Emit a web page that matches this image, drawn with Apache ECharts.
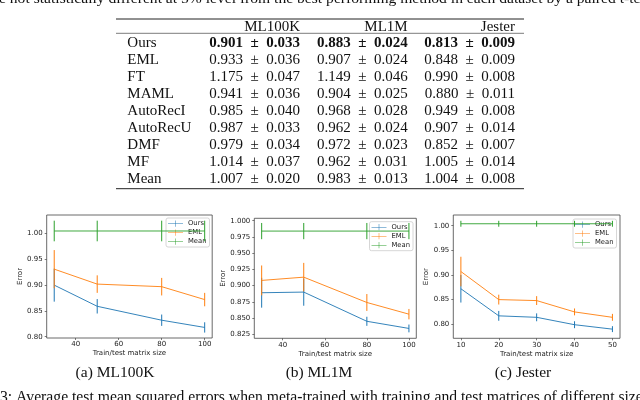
<!DOCTYPE html>
<html>
<head>
<meta charset="utf-8">
<script src="https://cdn.jsdelivr.net/npm/echarts@6/dist/echarts.min.js"></script>
<style>
html,body{margin:0;padding:0;background:#fff;}
#c{width:640px;height:400px;}
</style>
</head>
<body>
<div id="c"></div>
<script>
// ---------- table data ----------
const methods = ['Ours','EML','FT','MAML','AutoRecI','AutoRecU','DMF','MF','Mean'];
const datasets = ['ML100K','ML1M','Jester'];
const ml100kMean = [0.901,0.933,1.175,0.941,0.985,0.987,0.979,1.014,1.007];
const ml100kStd  = [0.033,0.036,0.047,0.036,0.040,0.033,0.034,0.037,0.020];
const ml1mMean   = [0.883,0.907,1.149,0.904,0.968,0.962,0.972,0.962,0.983];
const ml1mStd    = [0.024,0.024,0.046,0.025,0.028,0.024,0.023,0.031,0.013];
const jesterMean = [0.813,0.848,0.990,0.880,0.949,0.907,0.852,1.005,1.004];
const jesterStd  = [0.009,0.009,0.008,0.011,0.008,0.014,0.007,0.014,0.008];
const boldRow = 'Ours';

// ---------- chart (a) ML100K ----------
const xA = [30, 50, 80, 100];
const oursA = [0.900, 0.859, 0.832, 0.818];
const oursAErr = [0.032, 0.014, 0.011, 0.010];
const emlA = [0.931, 0.902, 0.897, 0.872];
const emlAErr = [0.037, 0.017, 0.017, 0.013];
const meanA = [1.005, 1.005, 1.005, 1.005];
const meanAErr = [0.020, 0.020, 0.020, 0.020];
const xTicksA = [40, 60, 80, 100];
const yTicksA = [0.80, 0.85, 0.90, 0.95, 1.00];

// ---------- chart (b) ML1M ----------
const xB = [30, 50, 80, 100];
const oursB = [0.889, 0.890, 0.845, 0.834];
const oursBErr = [0.023, 0.021, 0.007, 0.006];
const emlB = [0.908, 0.913, 0.874, 0.856];
const emlBErr = [0.023, 0.022, 0.013, 0.008];
const meanB = [0.984, 0.984, 0.984, 0.984];
const meanBErr = [0.0125, 0.0125, 0.0125, 0.0125];
const xTicksB = [40, 60, 80, 100];
const yTicksB = [0.825, 0.850, 0.875, 0.900, 0.925, 0.950, 0.975, 1.000];

// ---------- chart (c) Jester ----------
const xC = [10, 20, 30, 40, 50];
const oursC = [0.872, 0.817, 0.814, 0.799, 0.790];
const oursCErr = [0.028, 0.010, 0.008, 0.007, 0.006];
const emlC = [0.907, 0.850, 0.848, 0.825, 0.814];
const emlCErr = [0.030, 0.010, 0.009, 0.007, 0.007];
const meanC = [1.004, 1.004, 1.004, 1.004, 1.004];
const meanCErr = [0.006, 0.006, 0.006, 0.006, 0.006];
const xTicksC = [10, 20, 30, 40, 50];
const yTicksC = [0.80, 0.85, 0.90, 0.95, 1.00];

const seriesNames = ['Ours', 'EML', 'Mean'];
const captions = ['(a) ML100K', '(b) ML1M', '(c) Jester'];
const topText = 'e not statistically different at 5% level from the best performing method in each dataset by a paired t-test.';
const bottomText = '3: Average test mean squared errors when meta-trained with training and test matrices of different sizes.';
const xName = 'Train/test matrix size';
const yName = 'Error';

// ---------- layout / style ----------
const COLORS = ['#1f77b4', '#ff7f0e', '#2ca02c'];
const AX = '#444';
const SANS = 'DejaVu Sans';
const SERIF = 'Liberation Serif';

const charts = [
  { x: xA, ys: [oursA, emlA, meanA], es: [oursAErr, emlAErr, meanAErr], xt: xTicksA, yt: yTicksA, yDig: 2,
    grid: {left: 46.7, top: 215, width: 165.5, height: 123}, xmin: 26.5, xmax: 103.5, ymin: 0.7975, ymax: 1.036,
    nameGapY: 22, legend: {left: 166, top: 218}, cap: {x: 115, y: 373} },
  { x: xB, ys: [oursB, emlB, meanB], es: [oursBErr, emlBErr, meanBErr], xt: xTicksB, yt: yTicksB, yDig: 3,
    grid: {left: 254.3, top: 218.3, width: 162, height: 120}, xmin: 26.5, xmax: 103.5, ymin: 0.8188, ymax: 1.0037,
    nameGapY: 25.5, legend: {left: 369.5, top: 221.7}, cap: {x: 319, y: 373} },
  { x: xC, ys: [oursC, emlC, meanC], es: [oursCErr, emlCErr, meanCErr], xt: xTicksC, yt: yTicksC, yDig: 2,
    grid: {left: 453.3, top: 215, width: 166.7, height: 123.3}, xmin: 8, xmax: 52, ymin: 0.7714, ymax: 1.0218,
    nameGapY: 20.5, legend: {left: 573, top: 219}, cap: {x: 523, y: 373} }
];

function errItem(params, api) {
  const x = api.value(0), y = api.value(1), e = api.value(2);
  const p1 = api.coord([x, y + e]);
  const p2 = api.coord([x, y - e]);
  return { type: 'line', shape: {x1: p1[0], y1: p1[1], x2: p2[0], y2: p2[1]},
           style: {stroke: api.visual('color'), lineWidth: 1} };
}

const grids = [], xAxes = [], yAxes = [], series = [], legends = [];
const legendIcon = 'path://M0,4.6H24V5.4H0Z M11.6,0H12.4V10H11.6Z';

charts.forEach((c, k) => {
  grids.push(Object.assign({show: true, borderColor: AX, borderWidth: 0.8, backgroundColor: 'transparent'}, c.grid));
  xAxes.push({
    type: 'value', gridIndex: k, min: c.xmin, max: c.xmax,
    splitLine: {show: false}, axisLine: {show: false},
    axisTick: {show: true, length: 2, lineStyle: {color: AX, width: 0.7}, customValues: c.xt},
    axisLabel: {customValues: c.xt, margin: 3, fontSize: 7, fontFamily: SANS, color: '#222',
                formatter: v => String(Math.round(v))},
    name: xName, nameLocation: 'middle', nameGap: 12,
    nameTextStyle: {fontSize: 7, fontFamily: SANS, color: '#222'}
  });
  yAxes.push({
    type: 'value', gridIndex: k, min: c.ymin, max: c.ymax,
    splitLine: {show: false}, axisLine: {show: false},
    axisTick: {show: true, length: 2, lineStyle: {color: AX, width: 0.7}, customValues: c.yt},
    axisLabel: {customValues: c.yt, margin: 4, fontSize: 7, fontFamily: SANS, color: '#222',
                formatter: v => v.toFixed(c.yDig)},
    name: yName, nameLocation: 'middle', nameGap: c.nameGapY, nameRotate: 90,
    nameTextStyle: {fontSize: 7, fontFamily: SANS, color: '#222'}
  });
  seriesNames.forEach((nm, s) => {
    const ys = c.ys[s], es = c.es[s];
    series.push({
      name: nm, type: 'line', xAxisIndex: k, yAxisIndex: k,
      data: c.x.map((xv, i) => [xv, ys[i]]),
      showSymbol: false, symbol: 'none', color: COLORS[s],
      lineStyle: {width: 1, color: COLORS[s], opacity: 0.9}, z: 2 + s, silent: true
    });
    series.push({
      name: nm, type: 'custom', xAxisIndex: k, yAxisIndex: k,
      data: c.x.map((xv, i) => [xv, ys[i], es[i]]),
      encode: {x: 0, y: 1}, renderItem: errItem, clip: false,
      itemStyle: {color: COLORS[s], opacity: 0.9}, z: 2 + s, silent: true
    });
  });
  legends.push({
    orient: 'vertical', left: c.legend.left, top: c.legend.top,
    data: seriesNames.map(n => ({name: n, icon: legendIcon})),
    itemWidth: 15, itemHeight: 8, itemGap: 2,
    textStyle: {fontSize: 6.8, fontFamily: SANS, color: '#222', padding: [0, 0, 0, 0]},
    backgroundColor: 'rgba(255,255,255,0.85)', borderColor: '#ccc', borderWidth: 0.8, borderRadius: 2,
    padding: [2, 3, 2, 2], selectedMode: false
  });
});

// ---------- graphics: table + captions ----------
const graphic = [];
function txt(text, x, y, opts) {
  graphic.push({
    type: 'text', x: x, y: y, silent: true,
    style: Object.assign({text: text, fill: '#111', font: '15px "' + SERIF + '"',
                          textAlign: 'left', textVerticalAlign: 'middle'}, opts || {})
  });
}
function rule(x1, x2, y, w) {
  graphic.push({type: 'line', silent: true, shape: {x1: x1, y1: y, x2: x2, y2: y},
                style: {stroke: '#222', lineWidth: w}});
}
const SP = '\u2002';
const fmt = (m, s) => m.toFixed(3) + SP + '\u00b1' + SP + s.toFixed(3);

txt(topText, -1, -1, {font: '15.6px "' + SERIF + '"'});
rule(116, 524, 19, 1);
rule(116, 524, 33.3, 0.6);
rule(116, 524, 188.7, 1);
const colRight = [300, 407.7, 515];
datasets.forEach((d, j) => txt(d, colRight[j], 27, {textAlign: 'right'}));
const cols = [[ml100kMean, ml100kStd], [ml1mMean, ml1mStd], [jesterMean, jesterStd]];
methods.forEach((m, i) => {
  const y = 43.3 + i * 16.96;
  const bold = m === boldRow;
  txt(m, 127.3, y);
  cols.forEach((col, j) => {
    txt(fmt(col[0][i], col[1][i]), colRight[j], y,
        {textAlign: 'right', font: (bold ? 'bold ' : '') + '15px "' + SERIF + '"'});
  });
});
charts.forEach((c, k) => txt(captions[k], c.cap.x, c.cap.y, {textAlign: 'center', font: '15.5px "' + SERIF + '"'}));
txt(bottomText, 0, 398, {font: '15.7px "' + SERIF + '"'});

const chart = echarts.init(document.getElementById('c'), null, {renderer: 'canvas'});
chart.setOption({
  animation: false,
  backgroundColor: '#fff',
  grid: grids, xAxis: xAxes, yAxis: yAxes, series: series, legend: legends,
  graphic: graphic
});
</script>
</body>
</html>
